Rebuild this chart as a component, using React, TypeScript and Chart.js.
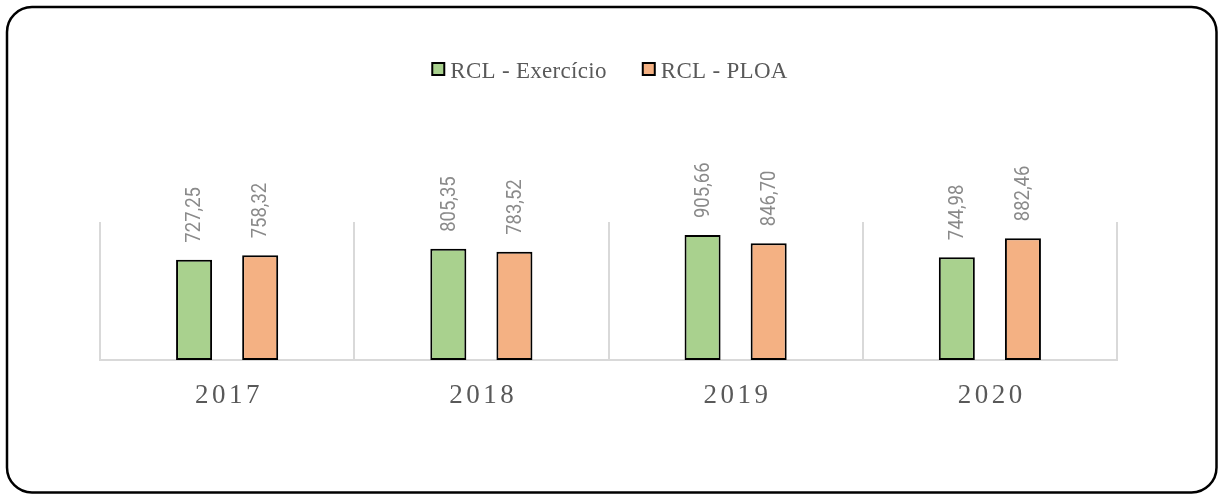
import React, { useEffect, useRef } from "react";
import { Chart, registerables } from "chart.js";

Chart.register(...registerables);

const categories = ["2017", "2018", "2019", "2020"];
const exercicio = [727.25, 805.35, 905.66, 744.98];
const ploa = [758.32, 783.52, 846.7, 882.46];
const seriesNames = ["RCL - Exercício", "RCL - PLOA"];
const seriesColors = ["#A9D18E", "#F4B183"];

const fmt = (v: number) => v.toFixed(2).replace(".", ",");

const decorPlugin = {
  id: "decor",
  afterDraw(chart: any) {
    const ctx = chart.ctx as CanvasRenderingContext2D;
    // outer rounded border
    ctx.save();
    ctx.strokeStyle = "#000";
    ctx.lineWidth = 2.5;
    ctx.beginPath();
    (ctx as any).roundRect(7, 7, 1209.5, 485.5, 25);
    ctx.stroke();
    ctx.restore();

    // legend
    ctx.save();
    ctx.font = "23px 'Liberation Serif'";
    (ctx as any).letterSpacing = "0.3px";
    ctx.textBaseline = "alphabetic";
    const w1 = ctx.measureText(seriesNames[0]).width;
    const w2 = ctx.measureText(seriesNames[1]).width;
    const box = 12;
    const gapBT = 6;
    const gapItems = 36;
    const total = box + gapBT + w1 + gapItems + box + gapBT + w2;
    let x = 610 - total / 2;
    const items = [
      { name: seriesNames[0], color: seriesColors[0], w: w1 },
      { name: seriesNames[1], color: seriesColors[1], w: w2 },
    ];
    items.forEach((it) => {
      ctx.fillStyle = it.color;
      ctx.fillRect(x, 63, box, box);
      ctx.strokeStyle = "#000";
      ctx.lineWidth = 2;
      ctx.strokeRect(x, 63, box, box);
      ctx.fillStyle = "#595959";
      ctx.fillText(it.name, x + box + gapBT, 78);
      x += box + gapBT + it.w + gapItems;
    });
    ctx.restore();

    // category labels
    const xScale = chart.scales.x;
    ctx.save();
    ctx.font = "27px 'Liberation Serif'";
    (ctx as any).letterSpacing = "3.5px";
    ctx.fillStyle = "#595959";
    ctx.textBaseline = "alphabetic";
    ctx.textAlign = "left";
    categories.forEach((c, i) => {
      const cx = xScale.getPixelForValue(i);
      const w = ctx.measureText(c).width - 3.5;
      ctx.fillText(c, cx - w / 2, 403);
    });
    ctx.restore();

    // value labels
    ctx.save();
    ctx.font = "21px Roboto";
    ctx.fillStyle = "#8a8a8a";
    ctx.textBaseline = "middle";
    ctx.textAlign = "left";
    chart.data.datasets.forEach((ds: any, di: number) => {
      const meta = chart.getDatasetMeta(di);
      meta.data.forEach((el: any, i: number) => {
        const txt = fmt(ds.data[i]);
        ctx.save();
        ctx.translate(el.x, el.y - 17);
        ctx.rotate(-Math.PI / 2);
        ctx.scale(0.88, 1);
        ctx.fillText(txt, 0, 1);
        ctx.restore();
      });
    });
    ctx.restore();
  },
};

export default function App() {
  const ref = useRef<HTMLCanvasElement | null>(null);
  useEffect(() => {
    if (!ref.current) return;
    const chart = new Chart(ref.current, {
      type: "bar",
      data: {
        labels: categories,
        datasets: [
          {
            label: seriesNames[0],
            data: exercicio,
            backgroundColor: seriesColors[0],
            borderColor: "#000",
            borderWidth: 2,
            borderSkipped: false,
            categoryPercentage: 0.52,
            barPercentage: 0.545,
          },
          {
            label: seriesNames[1],
            data: ploa,
            backgroundColor: seriesColors[1],
            borderColor: "#000",
            borderWidth: 2,
            borderSkipped: false,
            categoryPercentage: 0.52,
            barPercentage: 0.545,
          },
        ],
      },
      options: {
        responsive: false,
        animation: false,
        events: [],
        layout: { padding: { left: 100, right: 101, top: 222, bottom: 134 } },
        plugins: { legend: { display: false }, tooltip: { enabled: false } },
        scales: {
          x: {
            ticks: { display: false },
            grid: { display: true, color: "#d9d9d9", lineWidth: 2, drawTicks: false, offset: true },
            border: { display: true, color: "#d9d9d9", width: 2 },
          },
          y: {
            display: false,
            min: 0,
            max: 1000,
          },
        },
      },
      plugins: [decorPlugin],
    });
    return () => chart.destroy();
  }, []);
  return (
    <div style={{ position: "absolute", left: 0, top: 0, width: 1218, height: 494, background: "#fff" }}>
      <canvas ref={ref} width={1218} height={494} />
    </div>
  );
}
